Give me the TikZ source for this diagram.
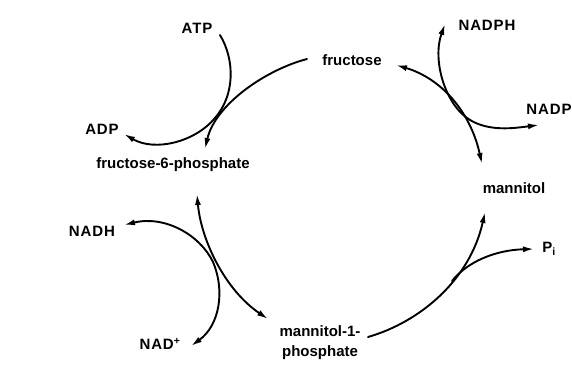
\documentclass[tikz,border=0pt]{standalone}
\usepackage{fontspec}
\setmainfont{Liberation Sans}
\usetikzlibrary{arrows.meta}
\begin{document}
\begin{tikzpicture}[x=1pt,y=-1pt,
  lbl/.style={font=\fontsize{15}{20}\selectfont\bfseries, inner sep=0pt, text=black},
  caps/.style={lbl, font=\fontsize{15}{20}\selectfont\bfseries\addfontfeatures{LetterSpace=6}},
  rx/.style={line width=1.9pt, draw=black, line cap=round},
  >={Latex[length=11pt,width=6pt]}]
\useasboundingbox[fill=white] (0,0) rectangle (572,381);

% labels
\node[caps] (atp) at (197,28) {ATP};
\node[caps] (adp) at (102,129) {ADP};
\node[lbl] (f6p) at (173,165) {fructose-6-phosphate};
\node[lbl] (fru) at (352,60) {fructose};
\node[caps] (nadph) at (487,25) {NADPH};
\node[caps] (nadp) at (549,109) {NADP};
\node[lbl] (man) at (514,188) {mannitol};
\node[caps] (pi) at (549,249) {P\textsubscript{i}};
\node[lbl, align=center] (m1p) at (320,343) {mannitol-1-\\phosphate};
\node[caps] (nadplus) at (160,344) {NAD\textsuperscript{+}};
\node[caps] (nadh) at (92,231) {NADH};

% connector end points
\coordinate (atpE) at (220,35);
\coordinate (adpE) at (124,134);
\coordinate (fruA) at (307,59);
\coordinate (f6pA) at (205,149);
\coordinate (fruB) at (396,65);
\coordinate (manB) at (482,164);
\coordinate (nadphE) at (445,24);
\coordinate (nadpE) at (539,125);
\coordinate (m1pA) at (368,337);
\coordinate (manA) at (485,212);
\coordinate (br) at (452,281);
\coordinate (piE) at (534,249);
\coordinate (f6pB) at (197,194);
\coordinate (m1pB) at (268,319);
\coordinate (nadhE) at (124,225);
\coordinate (nadplusE) at (191,346);

% ATP -> ADP
\draw[rx,->] (atpE) .. controls (235,60) and (235,95) .. (215,118)
  .. controls (195,142) and (155,152) .. (adpE);
% fructose -> fructose-6-phosphate
\draw[rx,->] (fruA) .. controls (265,70) and (215,105) .. (f6pA);
% fructose <-> mannitol
\draw[rx,<->] (fruB) .. controls (440,78) and (470,110) .. (manB);
% NADPH <-> NADP
\draw[rx,<->] (nadphE) .. controls (432,60) and (445,105) .. (470,120)
  .. controls (490,132) and (515,128) .. (nadpE);
% mannitol-1-phosphate -> mannitol
\draw[rx,->] (m1pA) .. controls (420,322) and (470,280) .. (manA);
% branch -> Pi
\draw[rx,->] (br) .. controls (467,262) and (495,250) .. (piE);
% fructose-6-phosphate <-> mannitol-1-phosphate
\draw[rx,<->] (f6pB) .. controls (201,240) and (225,290) .. (m1pB);
% NADH <-> NAD+
\draw[rx,<->] (nadhE) .. controls (165,215) and (200,235) .. (213,262)
  .. controls (225,290) and (220,325) .. (nadplusE);
\end{tikzpicture}
\end{document}
